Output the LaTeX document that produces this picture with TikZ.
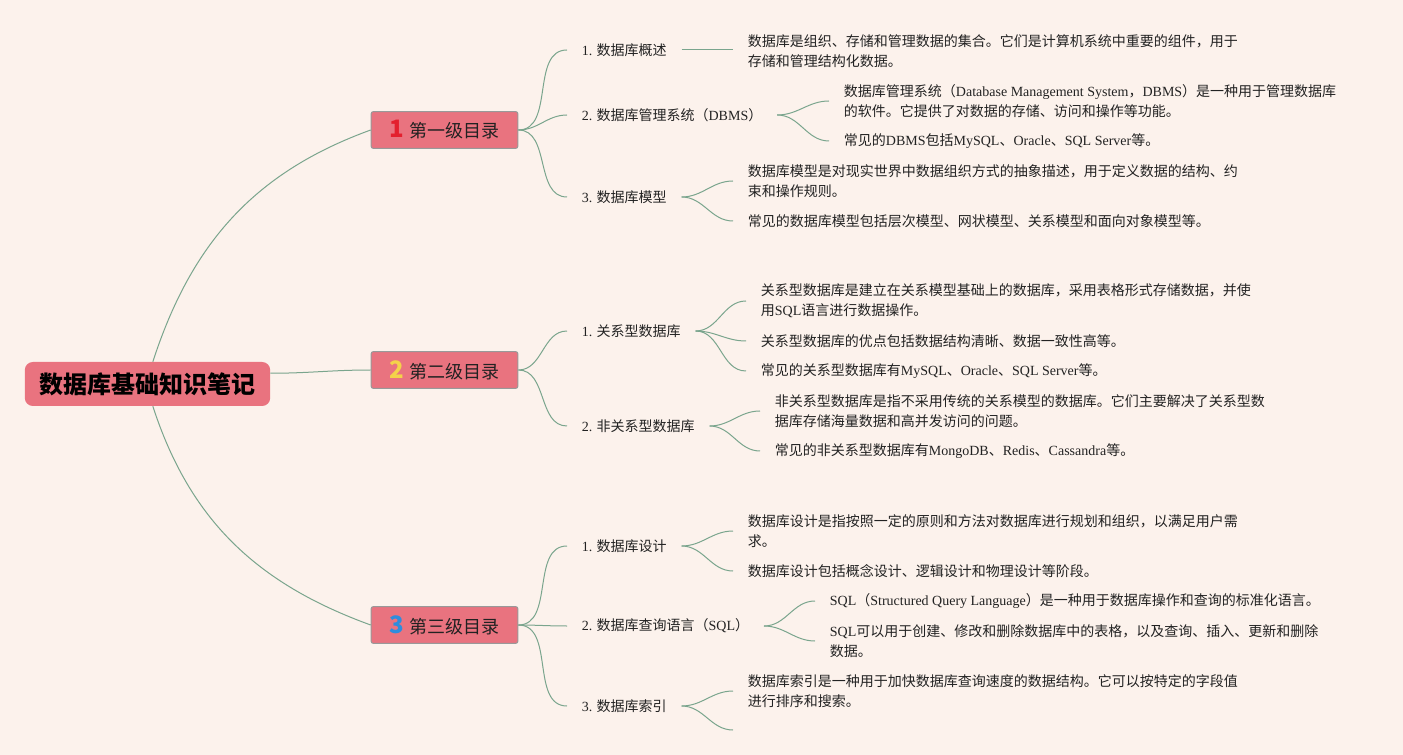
\documentclass[tikz,border=0pt]{standalone}
\usepackage{fontspec}
\usepackage{xcolor}
\setmainfont{Noto Sans CJK SC}
\newfontfamily\enfont{Liberation Serif}
\newcommand{\en}[1]{{\enfont #1}}
\newcommand{\secnum}[2]{{\color{#1}\fontsize{18}{18}\selectfont\bfseries #2}}
\usetikzlibrary{positioning}
\definecolor{bgc}{HTML}{FCF2EC}
\definecolor{boxc}{HTML}{E9737F}
\definecolor{linec}{HTML}{7AA58D}
\definecolor{txtc}{HTML}{222222}
\definecolor{numa}{HTML}{E3202E}
\definecolor{numb}{HTML}{F4D24A}
\definecolor{numc}{HTML}{2E8DDD}

\begin{document}
\begin{tikzpicture}[x=0.75pt,y=0.75pt,
  rootbox/.style={fill=boxc,rounded corners=6pt,minimum width=184pt,minimum height=33pt,
    inner sep=0pt,font=\fontsize{18}{20}\selectfont\bfseries,text=black},
  secbox/.style={fill=boxc,draw=gray!80,line width=0.75pt,rounded corners=1.5pt,
    minimum width=110pt,minimum height=27.5pt,inner sep=0pt,font=\fontsize{13.5}{15}\selectfont,text=txtc},
  branch/.style={anchor=west,inner xsep=11pt,inner ysep=2pt,font=\fontsize{10.5}{15}\selectfont,text=txtc},
  leaf/.style={anchor=west,align=left,inner xsep=11pt,inner ysep=2pt,font=\fontsize{10.5}{15}\selectfont,text=txtc},
  link/.style={draw=linec,line width=0.75pt}]

\fill[bgc] (0,0) rectangle (1403,-755);
\useasboundingbox (0,0) rectangle (1403,-755);

% root and the three sections
\node[rootbox] (root) at (147.5,-384) {数据库基础知识笔记};
\node[secbox] (s1) at (444.5,-130) {\secnum{numa}{1}\hspace{4pt}第一级目录};
\node[secbox] (s2) at (444.5,-370) {\secnum{numb}{2}\hspace{4pt}第二级目录};
\node[secbox] (s3) at (444.5,-625) {\secnum{numc}{3}\hspace{4pt}第三级目录};

\draw[link] ([xshift=4pt]root.north) to[out=72,in=200] (s1.west);
\draw[link] (root.5) to[out=0,in=180] (s2.west);
\draw[link] ([xshift=4pt]root.south) to[out=-72,in=160] (s3.west);

% first section
\node[branch] (b1) at (567,-50) {\en{1.} 数据库概述};
\node[branch] (b2) at (567,-115) {\en{2.} 数据库管理系统（\en{DBMS}）};
\node[branch] (b3) at (567,-197) {\en{3.} 数据库模型};
\foreach \b in {b1,b2,b3}
  \draw[link] (s1.east) to[out=0,in=180] (\b.west);

\node[leaf] (a11) at (733,-51) {数据库是组织、存储和管理数据的集合。它们是计算机系统中重要的组件，用于\\存储和管理结构化数据。};
\node[leaf] (a21) at (829,-101) {数据库管理系统（\en{Database Management System}，\en{DBMS}）是一种用于管理数据库\\的软件。它提供了对数据的存储、访问和操作等功能。};
\node[leaf] (a22) at (829,-141) {常见的\en{DBMS}包括\en{MySQL}、\en{Oracle}、\en{SQL Server}等。};
\node[leaf] (a31) at (733,-181) {数据库模型是对现实世界中数据组织方式的抽象描述，用于定义数据的结构、约\\束和操作规则。};
\node[leaf] (a32) at (733,-221) {常见的数据库模型包括层次模型、网状模型、关系模型和面向对象模型等。};

\draw[link] (b1.east) -- (b1.east -| a11.west);
\draw[link] (b2.east) to[out=0,in=180] (a21.west);
\draw[link] (b2.east) to[out=0,in=180] (a22.west);
\draw[link] (b3.east) to[out=0,in=180] (a31.west);
\draw[link] (b3.east) to[out=0,in=180] (a32.west);

% second section
\node[branch] (b4) at (567,-331) {\en{1.} 关系型数据库};
\node[branch] (b5) at (567,-426) {\en{2.} 非关系型数据库};
\foreach \b in {b4,b5}
  \draw[link] (s2.east) to[out=0,in=180] (\b.west);

\node[leaf] (a41) at (746,-301) {关系型数据库是建立在关系模型基础上的数据库，采用表格形式存储数据，并使\\用\en{SQL}语言进行数据操作。};
\node[leaf] (a42) at (746,-341) {关系型数据库的优点包括数据结构清晰、数据一致性高等。};
\node[leaf] (a43) at (746,-371) {常见的关系型数据库有\en{MySQL}、\en{Oracle}、\en{SQL Server}等。};
\node[leaf] (a51) at (760,-411) {非关系型数据库是指不采用传统的关系模型的数据库。它们主要解决了关系型数\\据库存储海量数据和高并发访问的问题。};
\node[leaf] (a52) at (760,-451) {常见的非关系型数据库有\en{MongoDB}、\en{Redis}、\en{Cassandra}等。};

\foreach \a in {a41,a42,a43}
  \draw[link] (b4.east) to[out=0,in=180] (\a.west);
\foreach \a in {a51,a52}
  \draw[link] (b5.east) to[out=0,in=180] (\a.west);

% third section
\node[branch] (b6) at (567,-546) {\en{1.} 数据库设计};
\node[branch] (b7) at (567,-626) {\en{2.} 数据库查询语言（\en{SQL}）};
\node[branch] (b8) at (567,-706) {\en{3.} 数据库索引};
\foreach \b in {b6,b7,b8}
  \draw[link] (s3.east) to[out=0,in=180] (\b.west);

\node[leaf] (a61) at (733,-531) {数据库设计是指按照一定的原则和方法对数据库进行规划和组织，以满足用户需\\求。};
\node[leaf] (a62) at (733,-571) {数据库设计包括概念设计、逻辑设计和物理设计等阶段。};
\node[leaf] (a71) at (815,-601) {\en{SQL}（\en{Structured Query Language}）是一种用于数据库操作和查询的标准化语言。};
\node[leaf] (a72) at (815,-641) {\en{SQL}可以用于创建、修改和删除数据库中的表格，以及查询、插入、更新和删除\\数据。};
\node[leaf] (a81) at (733,-691) {数据库索引是一种用于加快数据库查询速度的数据结构。它可以按特定的字段值\\进行排序和搜索。};
\coordinate (a82) at (733,-730);

\foreach \a in {a61,a62}
  \draw[link] (b6.east) to[out=0,in=180] (\a.west);
\foreach \a in {a71,a72}
  \draw[link] (b7.east) to[out=0,in=180] (\a.west);
\draw[link] (b8.east) to[out=0,in=180] (a81.west);
\draw[link] (b8.east) to[out=0,in=180] (a82);

\end{tikzpicture}
\end{document}
